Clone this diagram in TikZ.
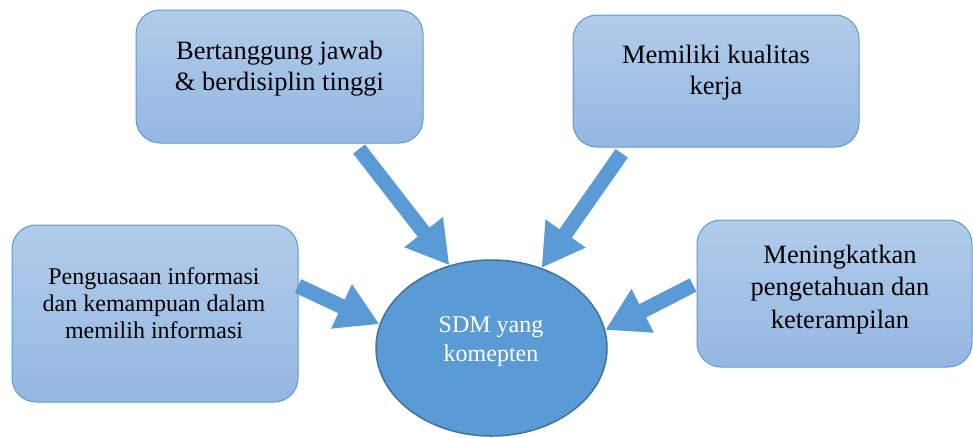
\documentclass[tikz,border=0pt]{standalone}
\usepackage{fontspec}
\setmainfont{Liberation Serif}
\newfontfamily\timesx{Liberation Serif}
\usetikzlibrary{arrows.meta,shapes.geometric}
\definecolor{boxtop}{HTML}{B2CCEA}
\definecolor{boxbot}{HTML}{94B7E2}
\definecolor{boxline}{HTML}{5B9BD5}
\definecolor{ellfill}{HTML}{5B9BD5}
\definecolor{ellline}{HTML}{41719C}
\definecolor{arrcol}{HTML}{5B9BD5}
\begin{document}
\begin{tikzpicture}[x=1pt,y=-1pt,
  box/.style={draw=boxline, line width=1pt, rounded corners=24pt,
    top color=boxtop, bottom color=boxbot, inner sep=0pt},
  boxtext/.style={align=center, inner sep=0pt, text=black},
  bigfont/.style={font=\timesx\fontsize{26.5}{31}\selectfont},
  smallfont/.style={font=\timesx\fontsize{24}{27}\selectfont},
  sdmnode/.style={ellipse, draw=ellline, line width=1.5pt, fill=ellfill, inner sep=0pt},
  sdmtext/.style={text=white, align=center, inner sep=0pt,
    font=\timesx\fontsize{24}{29}\selectfont},
  bigarrow/.style={draw=arrcol, line width=15pt,
    -{Triangle[width=46pt,length=42pt]}, arrcol}]
\useasboundingbox (0,0) rectangle (973,437);
% boxes
\node[box, minimum width=287pt, minimum height=133pt] (b1) at (279.5,76.5) {};
\node[box, minimum width=286pt, minimum height=132pt] (b2) at (716,81) {};
\node[box, minimum width=286pt, minimum height=177pt] (b3) at (155,313.5) {};
\node[box, minimum width=275pt, minimum height=147pt] (b4) at (834.5,293.5) {};
% texts
\node[boxtext, bigfont] (t1) at (279.5,69) {Bertanggung jawab\\\& berdisiplin tinggi};
\node[boxtext, bigfont] (t2) at (716,72.4) {Memiliki kualitas\\kerja};
\node[boxtext, smallfont] (t3) at (154,302.8) {Penguasaan informasi\\dan kemampuan dalam\\memilih informasi};
\node[boxtext, font=\timesx\fontsize{26.5}{32.5}\selectfont] (t4) at (840,289.4) {Meningkatkan\\pengetahuan dan\\keterampilan};
% tails
\coordinate (a1) at (359,149);
\coordinate (a2) at (621.7,153.3);
\coordinate (a3) at (298,286);
\coordinate (a4) at (693,285);
% central ellipse
\node[sdmnode, minimum width=231pt, minimum height=176pt] (sdm) at (491.5,348) {};
\node[sdmtext] (sdmlabel) at (491,342) {SDM yang\\komepten};
% arrows
\draw[bigarrow] (a1) -- (sdm.117.5);
\draw[bigarrow] (a2) -- (sdm.58.1);
\draw[bigarrow] (a3) -- (sdm.168);
\draw[bigarrow] (a4) -- (sdm.9.8);
\end{tikzpicture}
\end{document}
